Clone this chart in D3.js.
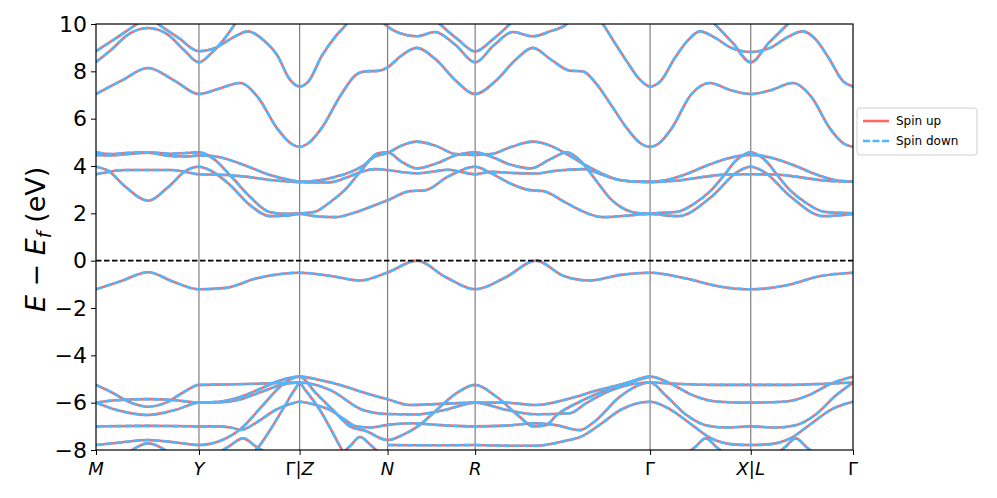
<!DOCTYPE html>
<html>
<head>
<meta charset="utf-8">
<script src="https://cdn.jsdelivr.net/npm/d3@7"></script>
<style>
  body { margin: 0; background: #fff; }
  svg text { font-family: "DejaVu Sans", sans-serif; }
</style>
</head>
<body>
<script>
// high-symmetry path: k positions and labels
var kTicks = [0, 1.03, 2.037, 2.917, 3.793, 5.543, 6.55, 7.573];
var kLabels = ["M", "Y", "Γ|Z", "N", "R", "Γ", "X|L", "Γ"];
var eTicks = [-8, -6, -4, -2, 0, 2, 4, 6, 8, 10];

// conduction bands above 4.8 eV (values > 10 are off the top)
var highBands = [
  [[0,7.04],[0.26,7.62],[0.52,8.14],[0.78,7.62],[1.03,7.04],[1.22,7.25],[1.44,7.51],[1.62,6.9],[1.81,5.6],[1.95,4.95],[2.037,4.81],[2.12,4.95],[2.257,5.6],[2.45,7.0],[2.6,7.85],[2.69,8.0],[2.82,8.02],[2.917,8.17],[3.05,8.65],[3.207,8.99],[3.4,8.5],[3.6,7.6],[3.793,7.04],[4.0,7.6],[4.2,8.5],[4.37,8.99],[4.55,8.5],[4.74,8.03],[4.87,8.0],[5.0,7.5],[5.15,6.6],[5.31,5.6],[5.45,4.95],[5.543,4.81],[5.63,4.95],[5.76,5.6],[5.95,7.0],[6.14,7.51],[6.35,7.2],[6.55,7.04],[6.75,7.2],[6.97,7.51],[7.16,6.9],[7.34,5.6],[7.48,4.95],[7.573,4.81]],
  [[0,8.39],[0.15,8.9],[0.32,9.55],[0.52,9.83],[0.72,9.55],[0.88,8.9],[1.03,8.38],[1.15,8.75],[1.27,9.3],[1.39,10.0],[1.5,10.7]],
  [[0,8.85],[0.2,9.4],[0.41,10.0],[0.52,10.3],[0.62,10.0],[0.83,9.4],[1.03,8.85],[1.2,9.0],[1.36,9.4],[1.52,9.69],[1.68,9.3],[1.81,8.7],[1.94,7.65],[2.037,7.36],[2.13,7.6],[2.257,8.64],[2.4,9.5],[2.507,10.0],[2.6,10.6]],
  [[2.8,10.5],[2.89,10.0],[3.05,9.6],[3.207,9.48],[3.39,9.66],[3.6,9.1],[3.793,8.38],[3.98,9.1],[4.17,9.66],[4.37,9.48],[4.55,9.7],[4.71,10.0],[4.8,10.5]],
  [[3.3,10.6],[3.44,10.0],[3.62,9.35],[3.793,8.84],[3.97,9.35],[4.14,10.0],[4.28,10.6]],
  [[4.95,10.6],[5.07,10.0],[5.19,9.2],[5.31,8.42],[5.43,7.7],[5.543,7.36],[5.65,7.6],[5.79,8.56],[5.93,9.35],[6.04,9.69],[6.2,9.4],[6.35,9.0],[6.55,8.82],[6.75,9.0],[6.9,9.4],[7.07,9.69],[7.2,9.35],[7.33,8.56],[7.47,7.6],[7.573,7.36]],
  [[6.05,10.6],[6.19,10.0],[6.37,9.2],[6.55,8.38],[6.73,9.2],[6.92,10.0],[7.05,10.6]]
];

// conduction bands between 1.8 and 5 eV
var midBands = [
  [[0,4.58],[0.15,4.5],[0.3,4.55],[0.52,4.58],[0.75,4.52],[0.9,4.55],[1.03,4.58],[1.17,4.32],[1.34,3.62],[1.54,2.7],[1.74,2.05],[1.9,1.98],[2.037,2.0],[2.19,2.07],[2.35,2.5],[2.49,2.99],[2.657,3.83],[2.82,4.54],[2.917,4.58],[3.05,4.2],[3.21,3.9],[3.4,4.1],[3.6,4.45],[3.793,4.58],[3.95,4.4],[4.15,4.05],[4.35,3.9],[4.55,4.3],[4.71,4.58],[4.85,4.2],[5.0,3.4],[5.15,2.6],[5.3,2.15],[5.45,2.0],[5.543,2.0],[5.65,2.02],[5.82,2.07],[6.0,2.45],[6.157,2.99],[6.3,3.7],[6.39,4.18],[6.47,4.45],[6.55,4.58],[6.63,4.45],[6.71,4.18],[6.8,3.7],[6.94,2.99],[7.1,2.45],[7.28,2.07],[7.45,2.02],[7.573,2.0]],
  [[0,4.47],[0.15,4.45],[0.3,4.5],[0.52,4.56],[0.75,4.42],[0.9,4.4],[1.03,4.45],[1.2,4.4],[1.44,4.11],[1.74,3.62],[1.94,3.41],[2.037,3.34],[2.2,3.38],[2.4,3.55],[2.55,3.75],[2.657,3.97],[2.79,4.4],[2.917,4.55],[3.05,4.85],[3.21,5.03],[3.4,4.85],[3.6,4.5],[3.793,4.47],[3.95,4.5],[4.15,4.8],[4.37,5.03],[4.55,4.85],[4.71,4.5],[4.89,4.05],[5.05,3.7],[5.24,3.41],[5.4,3.34],[5.543,3.34],[5.7,3.4],[5.9,3.65],[6.1,4.0],[6.3,4.3],[6.55,4.47],[6.8,4.3],[7.0,4.0],[7.2,3.65],[7.4,3.4],[7.573,3.34]],
  [[0,3.65],[0.12,3.75],[0.3,3.83],[0.52,3.83],[0.75,3.83],[0.9,3.75],[1.03,3.65],[1.3,3.62],[1.5,3.55],[1.74,3.41],[2.037,3.32],[2.32,3.3],[2.5,3.5],[2.657,3.76],[2.79,3.87],[2.917,3.83],[3.05,3.75],[3.21,3.69],[3.4,3.78],[3.52,3.84],[3.65,3.75],[3.793,3.65],[3.95,3.75],[4.2,3.7],[4.4,3.68],[4.6,3.8],[4.89,3.87],[5.05,3.65],[5.25,3.4],[5.543,3.32],[5.8,3.38],[6.1,3.55],[6.3,3.64],[6.55,3.65],[6.8,3.64],[7.0,3.55],[7.3,3.38],[7.573,3.34]],
  [[0,3.97],[0.12,3.8],[0.3,3.1],[0.52,2.53],[0.72,3.1],[0.9,3.8],[1.03,3.97],[1.15,3.8],[1.34,3.2],[1.54,2.35],[1.74,1.88],[1.9,1.9],[2.037,1.97],[2.2,1.88],[2.39,1.84],[2.6,2.05],[2.75,2.28],[2.917,2.55],[3.14,2.94],[3.29,2.97],[3.52,3.55],[3.793,3.97],[3.95,3.7],[4.15,3.25],[4.34,2.98],[4.47,2.94],[4.7,2.45],[4.84,2.14],[5.07,1.84],[5.3,1.9],[5.543,1.97],[5.82,1.88],[6.157,2.7],[6.42,3.76],[6.55,3.97],[6.68,3.76],[6.95,2.7],[7.28,1.88],[7.573,1.97]]
];

// top valence band
var gapBand = [[0,-1.21],[0.26,-0.85],[0.52,-0.49],[0.78,-0.9],[1.03,-1.21],[1.3,-1.15],[1.6,-0.75],[1.85,-0.56],[2.037,-0.51],[2.35,-0.65],[2.64,-0.84],[2.917,-0.5],[3.21,0.0],[3.5,-0.7],[3.793,-1.21],[4.1,-0.7],[4.4,0.0],[4.68,-0.65],[4.94,-0.84],[5.25,-0.6],[5.543,-0.51],[5.9,-0.75],[6.25,-1.1],[6.55,-1.21],[6.9,-1.05],[7.25,-0.65],[7.573,-0.51]];

// valence bands below -4.8 eV (values < -8 are off the bottom)
var lowBands = [
  [[0,-5.25],[0.15,-5.55],[0.35,-6.0],[0.52,-6.17],[0.7,-6.0],[0.88,-5.55],[1.03,-5.25],[1.3,-5.23],[1.6,-5.2],[1.85,-5.17],[2.037,-5.15]],
  [[0,-6.0],[0.2,-5.9],[0.52,-5.85],[0.8,-5.9],[1.03,-6.0],[1.25,-5.95],[1.45,-5.75],[1.65,-5.4],[1.85,-5.05],[2.037,-4.9],[2.25,-5.05],[2.44,-5.25],[2.7,-5.6],[2.917,-5.86],[3.14,-6.1],[3.45,-6.05],[3.793,-6.0],[4.1,-6.0],[4.4,-6.1],[4.74,-5.82],[5.0,-5.5],[5.3,-5.18],[5.543,-4.9],[5.75,-5.2],[5.95,-5.65],[6.2,-5.95],[6.55,-6.0],[6.9,-5.95],[7.15,-5.65],[7.35,-5.2],[7.573,-4.9]],
  [[0,-6.0],[0.2,-6.3],[0.52,-6.52],[0.8,-6.3],[1.03,-6.0],[1.25,-5.98],[1.45,-5.85],[1.65,-5.55],[1.85,-5.25],[2.037,-5.15],[2.34,-5.46],[2.67,-6.31],[2.917,-6.48],[3.2,-6.5],[3.5,-6.3],[3.793,-6.0],[4.1,-6.3],[4.4,-6.49],[4.74,-6.45],[4.9,-6.03],[5.14,-5.5],[5.543,-5.15],[5.8,-5.2],[6.2,-5.25],[6.55,-5.25],[6.9,-5.25],[7.3,-5.2],[7.573,-5.15]],
  [[0,-7.0],[0.52,-6.98],[1.03,-7.0],[1.2,-7.0],[1.35,-7.05],[1.45,-7.15],[1.6,-6.85],[1.8,-6.3],[1.95,-6.05],[2.037,-5.96],[2.2,-6.1],[2.34,-6.3],[2.5,-6.75],[2.6,-7.0],[2.75,-7.05],[2.917,-6.94],[3.14,-6.87],[3.45,-6.95],[3.793,-7.0],[4.1,-6.97],[4.4,-6.87],[4.6,-6.95],[4.84,-7.16],[5.0,-6.75],[5.24,-5.75],[5.543,-5.15],[5.7,-5.7],[5.9,-6.5],[6.1,-6.95],[6.3,-7.05],[6.55,-7.0],[6.8,-7.05],[7.0,-6.95],[7.2,-6.5],[7.4,-5.7],[7.573,-5.15]],
  [[0,-7.79],[0.25,-7.68],[0.52,-7.58],[0.8,-7.68],[1.03,-7.79],[1.25,-7.6],[1.45,-7.1],[1.65,-6.2],[1.85,-5.3],[1.95,-5.0],[2.037,-4.9],[2.2,-5.6],[2.37,-6.31],[2.54,-7.0],[2.7,-7.2],[2.917,-7.58],[3.07,-7.36],[3.24,-6.94],[3.407,-6.31],[3.607,-5.6],[3.793,-5.25],[4.007,-5.75],[4.24,-6.6],[4.37,-7.0],[4.5,-6.95],[4.61,-6.52],[4.84,-5.96],[5.07,-5.53],[5.3,-5.18],[5.543,-4.9]],
  [[3.793,-7.79],[4.2,-7.82],[4.4,-7.82],[4.67,-7.64],[4.87,-7.4],[5.05,-6.9],[5.25,-6.3],[5.543,-5.96],[5.75,-6.3],[5.95,-6.9],[6.15,-7.5],[6.35,-7.75],[6.55,-7.79],[6.75,-7.75],[6.95,-7.5],[7.15,-6.9],[7.35,-6.3],[7.573,-5.96]],
  [[1.5,-8.4],[1.62,-7.9],[1.75,-7.1],[1.88,-6.2],[1.98,-5.5],[2.037,-5.2],[2.1,-5.5],[2.24,-6.31],[2.407,-7.58],[2.5,-8.3]],
  [[2.917,-7.79],[3.2,-7.8],[3.5,-7.8],[3.793,-7.79]],
  [[0.3,-8.2],[0.4,-7.9],[0.52,-7.72],[0.65,-7.9],[0.75,-8.2]],
  [[1.2,-8.2],[1.33,-7.85],[1.47,-7.51],[1.6,-7.85],[1.73,-8.2]],
  [[2.45,-8.2],[2.55,-7.8],[2.64,-7.45],[2.75,-7.8],[2.85,-8.2]],
  [[5.9,-8.2],[6.0,-7.85],[6.1,-7.51],[6.2,-7.85],[6.3,-8.2]],
  [[6.8,-8.2],[6.9,-7.85],[7.0,-7.51],[7.1,-7.85],[7.2,-8.2]]
];

var allBands = highBands.concat(midBands, [gapBand], lowBands);

var margin = {top: 24, right: 144, bottom: 48, left: 96},
    width = 853 - margin.left,
    height = 450 - margin.top;

var svg = d3.select("body").append("svg")
    .attr("width", 997)
    .attr("height", 498);

var g = svg.append("g")
    .attr("transform", "translate(" + margin.left + "," + margin.top + ")");

var x = d3.scaleLinear().domain([0, kTicks[kTicks.length - 1]]).range([0, width]);
var y = d3.scaleLinear().domain([-8, 10]).range([height, 0]);

svg.append("defs").append("clipPath").attr("id", "plotclip")
  .append("rect").attr("width", width).attr("height", height);

// vertical lines at high-symmetry points
g.selectAll(".kline")
  .data(kTicks.slice(1, -1))
  .enter().append("line")
    .attr("x1", function(d) { return x(d); })
    .attr("x2", function(d) { return x(d); })
    .attr("y1", 0).attr("y2", height)
    .attr("stroke", "#808080")
    .attr("stroke-width", 1.2);

var line = d3.line()
    .x(function(d) { return x(d[0]); })
    .y(function(d) { return y(d[1]); })
    .curve(d3.curveMonotoneX);

var bands = g.append("g").attr("clip-path", "url(#plotclip)");

// spin up (solid) then spin down (dashed) on top
bands.selectAll(".up")
  .data(allBands)
  .enter().append("path")
    .attr("d", line)
    .attr("fill", "none")
    .attr("stroke", "#ff6961")
    .attr("stroke-width", 2.6);

bands.selectAll(".down")
  .data(allBands)
  .enter().append("path")
    .attr("d", line)
    .attr("fill", "none")
    .attr("stroke", "#4db8ff")
    .attr("stroke-width", 2.6)
    .attr("stroke-dasharray", "7,2.5");

// Fermi level
g.append("line")
  .attr("x1", 0).attr("x2", width)
  .attr("y1", y(0)).attr("y2", y(0))
  .attr("stroke", "#000")
  .attr("stroke-width", 1.6)
  .attr("stroke-dasharray", "5.5,2.5");

// frame
g.append("rect")
  .attr("width", width).attr("height", height)
  .attr("fill", "none")
  .attr("stroke", "#000")
  .attr("stroke-width", 1.2);

// y axis
var yAxis = g.append("g")
  .call(d3.axisLeft(y).tickValues(eTicks).tickSize(5).tickPadding(4)
    .tickFormat(function(d) { return d < 0 ? "\u2212" + Math.abs(d) : d; }));
yAxis.select(".domain").remove();
yAxis.selectAll("text").attr("font-size", 22).attr("font-family", "DejaVu Sans").attr("fill", "#000");

// x axis ticks
var xAxis = g.append("g")
  .attr("transform", "translate(0," + height + ")")
  .call(d3.axisBottom(x).tickValues(kTicks).tickSize(5).tickFormat(""));
xAxis.select(".domain").remove();

var xl = g.selectAll(".klabel")
  .data(kLabels)
  .enter().append("text")
    .attr("x", function(d, i) { return x(kTicks[i]); })
    .attr("y", height + 25)
    .attr("text-anchor", "middle")
    .attr("font-size", 18)
    .attr("fill", "#000");

xl.each(function(d) {
  var t = d3.select(this);
  d.split(/(\||Γ)/).filter(function(s) { return s.length; }).forEach(function(s) {
    t.append("tspan")
      .attr("font-style", (s === "|" || s === "Γ") ? "normal" : "italic")
      .text(s);
  });
});

// y label
var yl = svg.append("text")
  .attr("transform", "translate(45," + (margin.top + y(0.9)) + ") rotate(-90)")
  .attr("text-anchor", "middle")
  .attr("font-size", 27)
  .attr("fill", "#000");
yl.append("tspan").attr("font-style", "italic").text("E");
yl.append("tspan").text(" \u2212 ");
yl.append("tspan").attr("font-style", "italic").text("E");
yl.append("tspan").attr("font-style", "italic").attr("font-size", 19).attr("dy", 6).text("f");
yl.append("tspan").attr("dy", -6).text(" (eV)");

// legend
var legend = svg.append("g").attr("transform", "translate(857,108)");
legend.append("rect")
  .attr("width", 120).attr("height", 47)
  .attr("rx", 3)
  .attr("fill", "#fff")
  .attr("stroke", "#d0d0d0");
var items = [{label: "Spin up", color: "#ff6961", dash: null},
             {label: "Spin down", color: "#4db8ff", dash: "7,2.5"}];
var li = legend.selectAll(".li")
  .data(items)
  .enter().append("g")
    .attr("transform", function(d, i) { return "translate(6," + (13 + i * 20) + ")"; });
li.append("line")
  .attr("x1", 0).attr("x2", 26)
  .attr("stroke", function(d) { return d.color; })
  .attr("stroke-width", 2.6)
  .attr("stroke-dasharray", function(d) { return d.dash; });
li.append("text")
  .attr("x", 33).attr("dy", "0.35em")
  .attr("font-size", 12)
  .attr("fill", "#000")
  .text(function(d) { return d.label; });
</script>
</body>
</html>
